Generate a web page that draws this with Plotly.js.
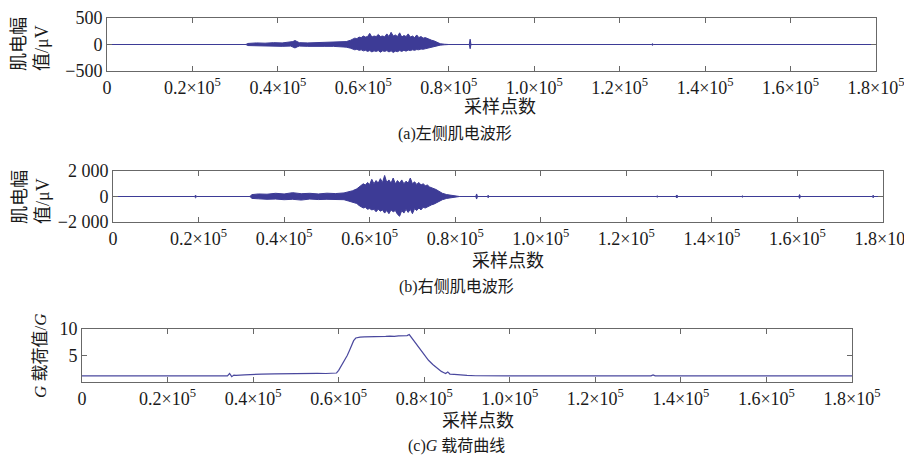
<!DOCTYPE html>
<html>
<head>
<meta charset="utf-8">
<script src="https://cdn.plot.ly/plotly-3.0.1.min.js"></script>
<style>html,body{margin:0;padding:0;background:#fff;overflow:hidden;}#chart{width:904px;height:455px;}</style>
</head>
<body>
<div id="chart"></div>
<script>
// x positions are in thousands of samples
const xTickVals = [0,20,40,60,80,100,120,140,160,180];
const xTickText = ['0','0.2×10<sup>5</sup>','0.4×10<sup>5</sup>','0.6×10<sup>5</sup>','0.8×10<sup>5</sup>','1.0×10<sup>5</sup>','1.2×10<sup>5</sup>','1.4×10<sup>5</sup>','1.6×10<sup>5</sup>','1.8×10<sup>5</sup>'];

// (a) left EMG envelope (µV)
const xA = [0,32.5,33,35,37,39,41,43,43.5,44,44.5,45,47,49,51,53,55,56,57,
  57.5,58,58.5,59,59.5,60,60.5,61,61.5,62,62.5,63,63.5,64,64.5,65,65.5,66,66.5,67,67.5,68,68.5,69,69.5,70,70.5,71,71.5,72,72.5,73,73.5,74,74.5,75,75.5,76,76.5,77,77.5,
  78,79,80,84.8,85,85.2,127.5,127.7,127.9,180];
const upA = [0,0,20,30,25,35,30,40,55,75,50,35,30,35,30,40,45,55,80,
  100,120,110,140,130,160,140,150,210,140,160,150,190,150,160,145,200,150,230,160,180,150,220,140,170,150,200,140,160,130,180,130,150,120,130,110,100,80,70,50,30,
  15,5,0,0,100,0,0,15,0,0];
const loA = [0,0,-20,-25,-30,-25,-35,-30,-50,-65,-45,-30,-35,-30,-35,-35,-40,-50,-70,
  -80,-100,-90,-110,-100,-120,-110,-130,-115,-140,-120,-130,-115,-145,-120,-130,-115,-140,-120,-150,-125,-135,-115,-130,-110,-125,-105,-115,-100,-110,-95,-100,-85,-90,-80,-70,-60,-55,-45,-35,-25,
  -12,-5,0,0,-80,0,0,-15,0,0];

// (b) right EMG envelope (µV)
const xB = [0,19,19.3,19.6,32,32.5,34,36,38,40,42,44,46,48,50,52,54,55,56,57,
  57.5,58,58.5,59,59.5,60,60.5,61,61.5,62,62.5,63,63.5,64,64.5,65,65.5,66,66.5,67,67.5,68,68.5,69,69.5,70,70.5,71,71.5,72,72.5,73,73.5,74,74.5,75,75.5,76,76.5,77,
  78,79,80,81,84.8,85,85.2,87.5,87.7,87.9,127,127.2,127.4,131.5,131.8,132.1,147,147.2,147.4,160.3,160.5,160.7,177.5,177.7,177.9,180];
const upB = [0,0,100,0,0,150,200,180,250,200,300,220,250,200,260,230,280,350,450,600,
  750,850,1000,900,1100,950,1350,1000,1250,1050,1400,1100,1650,1100,1300,1050,1450,1000,1250,1050,1300,1000,1200,1050,1450,1000,1150,950,1100,900,1000,850,900,750,700,600,550,450,350,250,
  150,100,50,0,0,200,0,0,100,0,0,60,0,0,120,0,0,50,0,0,150,0,0,100,0,0];
const loB = [0,0,-100,0,0,-150,-180,-220,-200,-250,-220,-280,-200,-240,-220,-260,-250,-350,-450,-550,
  -700,-800,-900,-850,-1000,-950,-1050,-1000,-1200,-1000,-1150,-1050,-1300,-1100,-1350,-1050,-1200,-1100,-1400,-1550,-1100,-1300,-1000,-1250,-1000,-1350,-950,-1100,-900,-1050,-850,-900,-800,-700,-650,-600,-500,-400,-350,-250,
  -150,-100,-50,0,0,-200,0,0,-100,0,0,-60,0,0,-120,0,0,-50,0,0,-150,0,0,-100,0,0];

// (c) G load curve
const xG = [0,5,10,15,20,25,30,33,34,34.5,35,35.5,36,38,40,42,45,48,50,52,55,57,58,59,
  59.5,60,60.5,61,61.5,62,62.5,63,63.5,64,64.5,65,66,67,68,69,70,71,72,73,74,75,76,76.5,77,77.5,78,
  79,80,81,82,83,84,84.5,85,85.5,86,87,88,90,92,95,100,110,120,130,133,133.5,134,140,150,160,170,180];
const yG = [1.15,1.15,1.12,1.15,1.13,1.15,1.18,1.2,1.15,1.6,1.0,1.3,1.25,1.35,1.45,1.5,1.55,1.6,1.55,1.6,1.62,1.6,1.65,1.7,
  1.7,2.2,2.9,3.5,4.2,5.0,5.9,6.9,7.8,8.3,8.4,8.45,8.5,8.5,8.6,8.55,8.6,8.6,8.65,8.6,8.7,8.7,8.75,8.95,8.4,7.9,7.4,
  6.2,5.1,4.1,3.3,2.6,2.0,1.8,1.6,1.9,1.5,1.45,1.35,1.25,1.18,1.15,1.15,1.15,1.15,1.15,1.15,1.35,1.15,1.15,1.15,1.15,1.15,1.15];

const W = 904, H = 455;
const px = v => v / W, py = v => 1 - v / H;
const emgColor = '#3d3b96';
const frame = '#686868';
const tickFont = {family: 'Liberation Serif, serif', size: 18, color: '#1a1a1a'};

function envTraces(x, up, lo, xa, ya) {
  return [
    {x: x, y: up, xaxis: xa, yaxis: ya, type: 'scatter', mode: 'lines', line: {color: emgColor, width: 1}, hoverinfo: 'skip', showlegend: false},
    {x: x, y: lo, xaxis: xa, yaxis: ya, type: 'scatter', mode: 'lines', fill: 'tonexty', fillcolor: emgColor, line: {color: emgColor, width: 1}, hoverinfo: 'skip', showlegend: false}
  ];
}

const data = [
  ...envTraces(xA, upA, loA, 'x', 'y'),
  ...envTraces(xB, upB, loB, 'x2', 'y2'),
  {x: xG, y: yG, xaxis: 'x3', yaxis: 'y3', type: 'scatter', mode: 'lines', line: {color: '#4a489e', width: 1.2}, showlegend: false}
];

function xAxis(d, anchor) {
  return {domain: d, anchor: anchor, range: [0, 180], tickvals: xTickVals, ticktext: xTickText,
    showline: true, linecolor: frame, linewidth: 1, mirror: 'ticks', ticks: 'inside', ticklen: 5, tickcolor: frame,
    showgrid: false, zeroline: false, tickfont: tickFont, automargin: false, fixedrange: true, ticklabeloverflow: 'allow'};
}
function yAxis(d, anchor, range, vals, text) {
  return {domain: d, anchor: anchor, range: range, tickvals: vals, ticktext: text,
    showline: true, linecolor: frame, linewidth: 1, mirror: 'ticks', ticks: 'inside', ticklen: 5, tickcolor: frame,
    showgrid: false, zeroline: false, tickfont: tickFont, automargin: false, fixedrange: true, ticklabeloverflow: 'allow'};
}

const cjk = 'Liberation Serif, Noto Sans CJK SC, serif';
function ann(text, x, y, size, extra) {
  return Object.assign({text: text, x: px(x), y: py(y), xref: 'paper', yref: 'paper', showarrow: false,
    font: {family: cjk, size: size, color: '#1a1a1a'}, xanchor: 'center', yanchor: 'middle'}, extra || {});
}

const layout = {
  width: W, height: H,
  margin: {l: 0, r: 0, t: 0, b: 0},
  paper_bgcolor: '#fff', plot_bgcolor: '#fff',
  xaxis: xAxis([px(107), px(876)], 'y'),
  yaxis: yAxis([py(71), py(18)], 'x', [-500, 500], [-500, 0, 500], ['−500', '0', '500']),
  xaxis2: xAxis([px(113), px(883)], 'y2'),
  yaxis2: yAxis([py(222), py(171)], 'x2', [-2000, 2000], [-2000, 0, 2000], ['−2 000', '0', '2 000']),
  xaxis3: xAxis([px(82), px(852)], 'y3'),
  yaxis3: yAxis([py(382), py(329)], 'x3', [0, 10], [5, 10], ['5', '10']),
  annotations: [
    ann('肌电幅<br>值/μV', 31, 44, 18, {textangle: -90, align: 'left'}),
    ann('采样点数', 500, 107, 18),
    ann('(a)左侧肌电波形', 455, 134, 16),
    ann('肌电幅<br>值/μV', 31, 197, 18, {textangle: -90, align: 'left'}),
    ann('采样点数', 508, 261, 18),
    ann('(b)右侧肌电波形', 456, 287, 16),
    ann('<i>G</i> 载荷值/<i>G</i>', 40, 356, 17, {textangle: -90}),
    ann('采样点数', 478, 421, 18),
    ann('(c)<i>G</i> 载荷曲线', 456, 446, 16)
  ]
};

Plotly.newPlot('chart', data, layout, {displayModeBar: false, staticPlot: true});
</script>
</body>
</html>
